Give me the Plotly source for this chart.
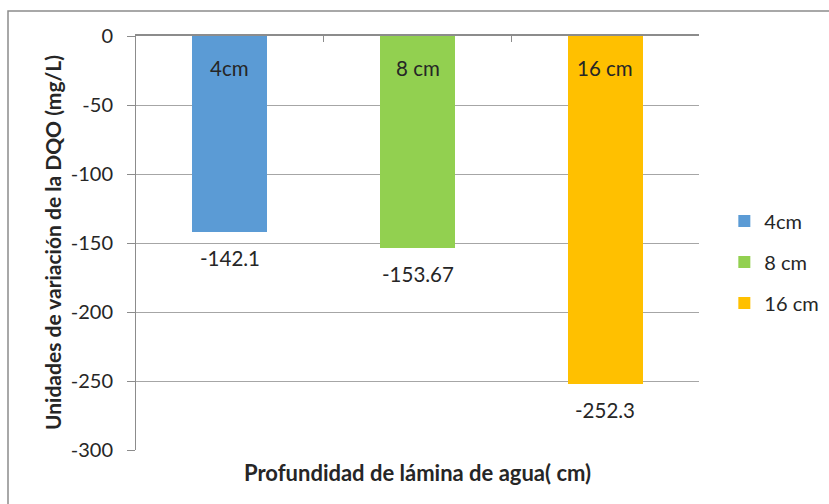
import plotly.graph_objects as go

# Depth of water layer (series) and the change in COD for each one
series = ["4cm", "8 cm", "16 cm"]
values = [-142.1, -153.67, -252.3]
colors = ["#5B9BD5", "#92D050", "#FFC000"]
y_ticks = [0, -50, -100, -150, -200, -250, -300]

FONT = "Lato"
TXT = "#262626"

# plot-area geometry in pixels
L, R, T, B = 136, 130, 36, 54
PW, PH = 829 - L - R, 504 - T - B

fig = go.Figure()
for i, (name, val, col) in enumerate(zip(series, values, colors)):
    fig.add_trace(go.Bar(
        x=[name], y=[val], name=name, marker=dict(color=col, line=dict(width=0)),
        width=0.4, legendgroup=f"g{i}", hoverinfo="x+y",
    ))
    # series name just inside the top of the bar
    fig.add_annotation(x=name, y=0, text=name, showarrow=False, yanchor="middle",
                       yshift=-32, font=dict(family=FONT, size=20.5, color=TXT))
    # value below the end of the bar
    fig.add_annotation(x=name, y=val, text=f"{val:g}", showarrow=False, yanchor="middle",
                       yshift=-26, font=dict(family=FONT, size=20.5, color=TXT))

fig.update_layout(
    width=829, height=504,
    margin=dict(l=L, r=R, t=T, b=B, autoexpand=False),
    paper_bgcolor="white", plot_bgcolor="white",
    barmode="overlay", bargap=0,
    font=dict(family=FONT, size=20, color=TXT),
    showlegend=True,
    legend=dict(x=1.045, y=(450 - 262) / PH, xanchor="left", yanchor="middle",
                font=dict(family=FONT, size=20, color=TXT),
                tracegroupgap=12, itemwidth=30, bgcolor="rgba(0,0,0,0)"),
    xaxis=dict(
        type="category", categoryorder="array", categoryarray=series,
        side="top", showticklabels=False, showline=True, linecolor="#8C8C8C",
        linewidth=1.5, ticks="inside", tickson="boundaries", ticklen=6,
        tickcolor="#8C8C8C", showgrid=False, zeroline=False,
    ),
    yaxis=dict(
        range=[-300, 0], tickvals=y_ticks, ticktext=[str(t) for t in y_ticks],
        showline=True, linecolor="#8C8C8C", linewidth=1, ticks="outside",
        ticklen=8, tickcolor="#8C8C8C", showgrid=True, gridcolor="#A6A6A6",
        gridwidth=1, zeroline=False, ticklabelstandoff=10,
        tickfont=dict(family=FONT, size=20, color=TXT),
    ),
)

# axis titles
fig.add_annotation(xref="paper", yref="paper", x=(52 - L) / PW, y=0.5,
                   text="<b>Unidades de variación de la DQO (mg/L)</b>", showarrow=False,
                   textangle=-90, xanchor="center", yanchor="middle",
                   font=dict(family=FONT, size=21, color=TXT))
fig.add_annotation(xref="paper", yref="paper", x=0.5, y=0, yshift=-22,
                   text="<b>Profundidad de lámina de agua( cm)</b>", showarrow=False,
                   yanchor="middle", font=dict(family=FONT, size=22, color=TXT))

# chart frame, running off the right and bottom edges
fig.add_shape(type="rect", xref="paper", yref="paper",
              x0=(8 - L) / PW, x1=(840 - L) / PW,
              y0=-(520 - 450) / PH, y1=1 + (T - 11) / PH,
              line=dict(color="#8C8C8C", width=1.5), fillcolor="rgba(0,0,0,0)",
              layer="below")

fig.write_html("out.html")
